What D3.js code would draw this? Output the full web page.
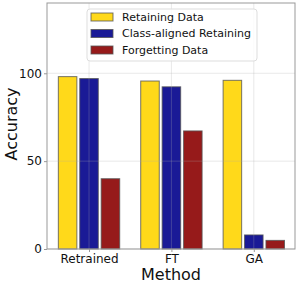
<!DOCTYPE html>
<html>
<head>
<meta charset="utf-8">
<script src="https://cdn.jsdelivr.net/npm/d3@7"></script>
<style>
  body { margin: 0; background: #fff; }
  svg { font-family: "DejaVu Sans", sans-serif; }
</style>
</head>
<body>
<svg id="chart" width="299" height="286"></svg>
<script>
// chart data
const methods = ["Retrained", "FT", "GA"];
const seriesNames = ["Retaining Data", "Class-aligned Retaining", "Forgetting Data"];
const retainingData = [98.1, 95.6, 96.0];
const classAligned = [97.0, 92.3, 8.0];
const forgettingData = [40.0, 67.2, 4.9];
const yTicks = [0, 50, 100];
const colors = ["#ffd91a", "#1a1a96", "#961a1a"];

const svg = d3.select("#chart");
const margin = {left: 47, top: 3, right: 4, bottom: 37};
const width = 299 - margin.left - margin.right;
const height = 286 - margin.top - margin.bottom;

const g = svg.append("g")
    .attr("transform", `translate(${margin.left},${margin.top})`);

// x is a linear scale over category index, like matplotlib
const x = d3.scaleLinear()
    .domain([-0.51, 2.5])
    .range([0, width]);

const y = d3.scaleLinear()
    .domain([0, 140])
    .range([height, 0]);

const barOffset = 0.26;
const barWidth = x(0.225) - x(0);

const series = [retainingData, classAligned, forgettingData];

series.forEach((values, s) => {
    g.append("g")
        .selectAll("rect")
        .data(values)
        .join("rect")
        .attr("x", (d, i) => x(i + (s - 1) * barOffset) - barWidth / 2)
        .attr("y", d => y(d))
        .attr("width", barWidth)
        .attr("height", d => y(0) - y(d))
        .attr("fill", colors[s])
        .attr("stroke", "#555")
        .attr("stroke-opacity", 0.8)
        .attr("stroke-width", 1);
});

// grid on top of the bars
const grid = g.append("g").attr("stroke", "#b0b0b0").attr("stroke-opacity", 0.35).attr("stroke-width", 0.8);
grid.selectAll("line.h")
    .data(yTicks)
    .join("line")
    .attr("class", "h")
    .attr("x1", 0).attr("x2", width)
    .attr("y1", d => y(d)).attr("y2", d => y(d));
grid.selectAll("line.v")
    .data(methods)
    .join("line")
    .attr("class", "v")
    .attr("x1", (d, i) => x(i)).attr("x2", (d, i) => x(i))
    .attr("y1", 0).attr("y2", height);

// frame
g.append("rect")
    .attr("width", width)
    .attr("height", height)
    .attr("fill", "none")
    .attr("stroke", "#999")
    .attr("stroke-width", 1);

const xAxis = d3.axisBottom(x)
    .tickValues(d3.range(methods.length))
    .tickFormat(i => methods[i])
    .tickSize(3)
    .tickPadding(2);

const yAxis = d3.axisLeft(y)
    .tickValues(yTicks)
    .tickSize(3)
    .tickPadding(2);

g.append("g")
    .attr("transform", `translate(0,${height})`)
    .call(xAxis)
    .call(a => a.select(".domain").remove())
    .call(a => a.selectAll("line").attr("stroke", "#999"))
    .call(a => a.selectAll("text").attr("font-size", 12).attr("fill", "#111").attr("font-family", "DejaVu Sans"));

g.append("g")
    .call(yAxis)
    .call(a => a.select(".domain").remove())
    .call(a => a.selectAll("line").attr("stroke", "#999"))
    .call(a => a.selectAll("text").attr("font-size", 12).attr("fill", "#111").attr("font-family", "DejaVu Sans"));

// axis titles
svg.append("text")
    .attr("x", margin.left + width / 2)
    .attr("y", 280)
    .attr("text-anchor", "middle")
    .attr("font-size", 16)
    .attr("fill", "#111")
    .text("Method");

svg.append("text")
    .attr("transform", "translate(17,124) rotate(-90)")
    .attr("text-anchor", "middle")
    .attr("font-size", 16)
    .attr("fill", "#111")
    .text("Accuracy");

// legend
const legend = svg.append("g").attr("transform", "translate(87,9)");
legend.append("rect")
    .attr("width", 170)
    .attr("height", 52)
    .attr("rx", 3)
    .attr("fill", "#fff")
    .attr("fill-opacity", 0.8)
    .attr("stroke", "#ddd");

seriesNames.forEach((name, i) => {
    const row = legend.append("g").attr("transform", `translate(4,${4 + i * 16.5})`);
    row.append("rect")
        .attr("width", 22)
        .attr("height", 8)
        .attr("fill", colors[i])
        .attr("stroke", "#555")
        .attr("stroke-opacity", 0.8);
    row.append("text")
        .attr("x", 31)
        .attr("y", 4)
        .attr("dy", "0.35em")
        .attr("font-size", 11)
        .attr("fill", "#111")
        .text(name);
});
</script>
</body>
</html>
